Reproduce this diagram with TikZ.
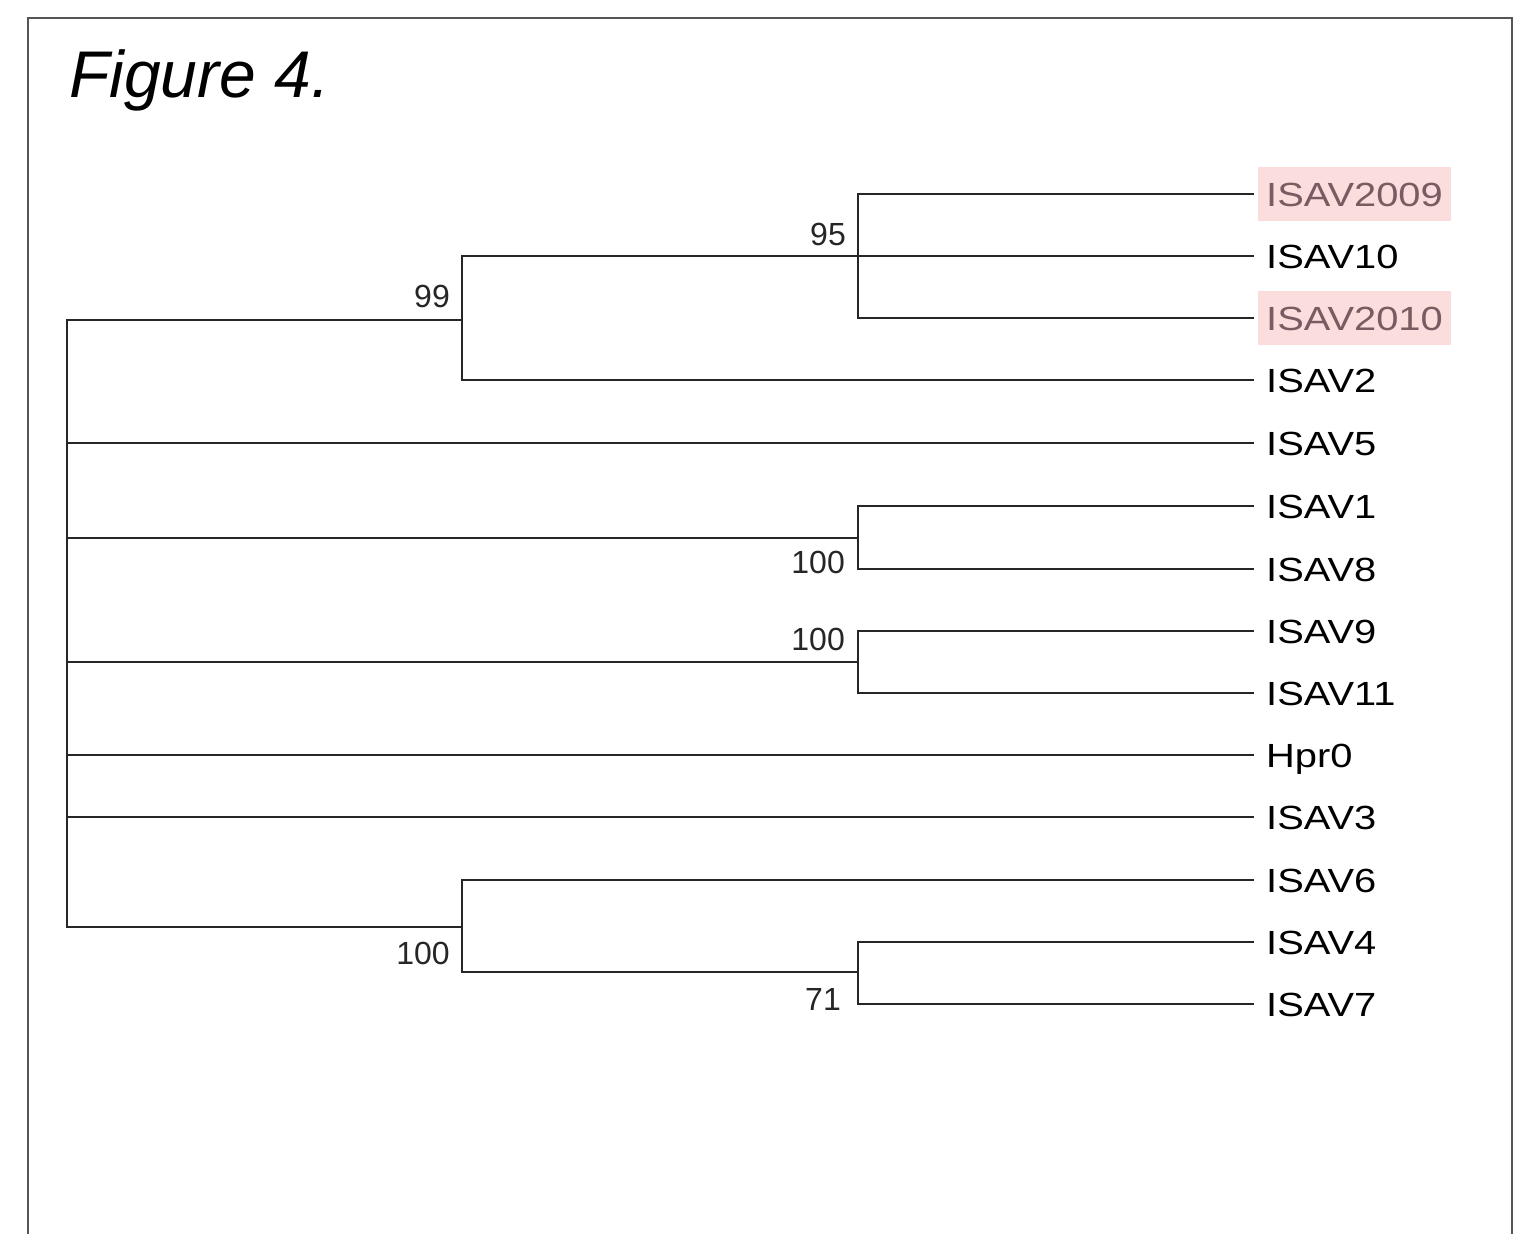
\documentclass[tikz,border=0pt]{standalone}
\usepackage{fontspec}
\setmainfont{Liberation Sans}
\definecolor{hlfill}{RGB}{252,221,221}
\definecolor{hltext}{RGB}{120,92,97}
\definecolor{framegray}{RGB}{85,85,85}
\newcommand\widetext[1]{\scalebox{1.19}[1]{#1}}
\begin{document}
\begin{tikzpicture}[x=1pt,y=-1pt,
  branch/.style={line width=2.9pt,draw=black!85,line cap=rect},
  leaflabel/.style={anchor=west,inner xsep=8pt,inner ysep=15pt,text height=24pt,text depth=0pt,
    font=\fontsize{33.5}{40}\selectfont,text=black},
  hilite/.style={leaflabel,fill=hlfill,text=hltext},
  boot/.style={anchor=base east,inner sep=0pt,font=\fontsize{32}{38}\selectfont,text=black!85},
  title/.style={anchor=base west,inner sep=0pt,font=\fontsize{66}{78}\selectfont\itshape}]
\useasboundingbox (0,0) rectangle (1526,1234);
\fill[white] (0,0) rectangle (1526,1234);
% frame
\draw[line width=2pt,draw=framegray] (28,1240) -- (28,18) -- (1512,18) -- (1512,1240);
% title
\node[title] (title) at (69,97) {Figure 4.};
% leaf tips
\foreach \n/\y in {t2009/194,t10/256,t2010/318,t2/380,t5/443,t1/506,t8/569,t9/631,t11/693,thpr/755,t3/817,t6/880,t4/942,t7/1004}
  \coordinate (\n) at (1253,\y);
% leaf labels
\node[hilite]   (l2009) at (1258,194) {\widetext{ISAV2009}};
\node[leaflabel] (l10)  at (1258,256) {\widetext{ISAV10}};
\node[hilite]   (l2010) at (1258,318) {\widetext{ISAV2010}};
\node[leaflabel] (l2)   at (1258,380) {\widetext{ISAV2}};
\node[leaflabel] (l5)   at (1258,443) {\widetext{ISAV5}};
\node[leaflabel] (l1)   at (1258,506) {\widetext{ISAV1}};
\node[leaflabel] (l8)   at (1258,569) {\widetext{ISAV8}};
\node[leaflabel] (l9)   at (1258,631) {\widetext{ISAV9}};
\node[leaflabel] (l11)  at (1258,693) {\widetext{ISAV11}};
\node[leaflabel] (lhpr) at (1258,755) {\widetext{Hpr0}};
\node[leaflabel] (l3)   at (1258,817) {\widetext{ISAV3}};
\node[leaflabel] (l6)   at (1258,880) {\widetext{ISAV6}};
\node[leaflabel] (l4)   at (1258,942) {\widetext{ISAV4}};
\node[leaflabel] (l7)   at (1258,1004) {\widetext{ISAV7}};
% internal nodes
\coordinate (rootT) at (67,320);
\coordinate (rootB) at (67,927);
\coordinate (nA) at (462,320);
\coordinate (nB) at (858,256);
\coordinate (nC) at (858,538);
\coordinate (nD) at (858,662);
\coordinate (nE) at (462,927);
\coordinate (nF) at (858,972);
% root
\draw[branch] (rootT) -- (rootB);
% clade A (99)
\draw[branch] (rootT) -- (nA);
\draw[branch] (nA |- nB) -- (nA |- t2);
\draw[branch] (nA |- nB) -- (nB);
\draw[branch] (nA |- t2) -- (t2);
% clade B (95)
\draw[branch] (nB |- t2009) -- (nB |- t2010);
\draw[branch] (nB |- t2009) -- (t2009);
\draw[branch] (nB) -- (t10);
\draw[branch] (nB |- t2010) -- (t2010);
% ISAV5
\draw[branch] (rootT |- t5) -- (t5);
% clade C
\draw[branch] (rootT |- nC) -- (nC);
\draw[branch] (nC |- t1) -- (nC |- t8);
\draw[branch] (nC |- t1) -- (t1);
\draw[branch] (nC |- t8) -- (t8);
% clade D
\draw[branch] (rootT |- nD) -- (nD);
\draw[branch] (nD |- t9) -- (nD |- t11);
\draw[branch] (nD |- t9) -- (t9);
\draw[branch] (nD |- t11) -- (t11);
% Hpr0, ISAV3
\draw[branch] (rootT |- thpr) -- (thpr);
\draw[branch] (rootT |- t3) -- (t3);
% clade E
\draw[branch] (rootB) -- (nE);
\draw[branch] (nE |- t6) -- (nE |- nF);
\draw[branch] (nE |- t6) -- (t6);
\draw[branch] (nE |- nF) -- (nF);
% clade F
\draw[branch] (nF |- t4) -- (nF |- t7);
\draw[branch] (nF |- t4) -- (t4);
\draw[branch] (nF |- t7) -- (t7);
% bootstrap values
\node[boot] (b99)  at (450,307)  {99};
\node[boot] (b95)  at (846,245)  {95};
\node[boot] (b100a) at (845,573) {100};
\node[boot] (b100b) at (845,650) {100};
\node[boot] (b100c) at (450,964) {100};
\node[boot] (b71)  at (841,1010) {71};
\end{tikzpicture}
\end{document}
